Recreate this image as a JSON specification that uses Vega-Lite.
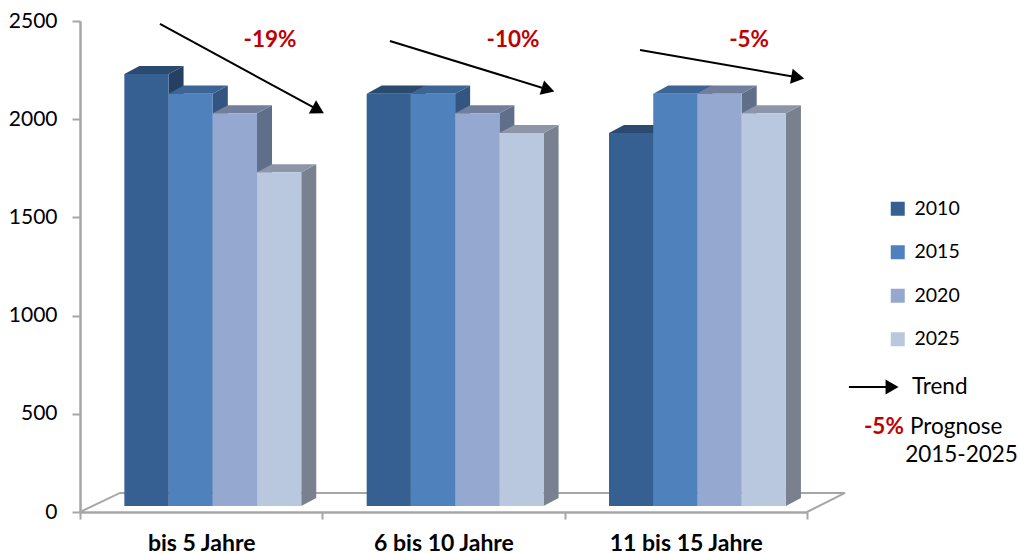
{"$schema":"https://vega.github.io/schema/vega-lite/v6.json","width":727,"height":491,"autosize":{"type":"none"},"padding":{"left":80,"top":21,"right":211,"bottom":41},"background":"white","config":{"view":{"stroke":null},"font":"Lato"},
"datasets":{"bars":[
{"group":"bis 5 Jahre","year":"2010","value":2200},{"group":"bis 5 Jahre","year":"2015","value":2100},{"group":"bis 5 Jahre","year":"2020","value":2000},{"group":"bis 5 Jahre","year":"2025","value":1700},
{"group":"6 bis 10 Jahre","year":"2010","value":2100},{"group":"6 bis 10 Jahre","year":"2015","value":2100},{"group":"6 bis 10 Jahre","year":"2020","value":2000},{"group":"6 bis 10 Jahre","year":"2025","value":1900},
{"group":"11 bis 15 Jahre","year":"2010","value":1900},{"group":"11 bis 15 Jahre","year":"2015","value":2100},{"group":"11 bis 15 Jahre","year":"2020","value":2100},{"group":"11 bis 15 Jahre","year":"2025","value":2000}],
"arrows":[{"name":"a","x1":0.330,"y1":2485,"x2":0.975,"y2":2052},{"name":"b","x1":1.279,"y1":2398,"x2":1.923,"y2":2154},{"name":"c","x1":2.311,"y1":2352,"x2":2.953,"y2":2215},{"name":"Trend","x1":3.173,"y1":636,"x2":3.342,"y2":636}],
"floor":[{"n":0,"x":0,"y":0},{"n":1,"x":0.165,"y":97},{"n":2,"x":3.157,"y":97},{"n":3,"x":3,"y":0}],
"redLabels":[{"t":"-19%","x":0.784,"y":2403},{"t":"-10%","x":1.787,"y":2403},{"t":"-5%","x":2.761,"y":2403}],
"notes":[{"t":"Trend","x":3.433,"y":636},{"t":"Prognose","x":3.425,"y":433},{"t":"2015-2025","x":3.405,"y":290}],
"noteRed":[{"t":"-5%","x":3.235,"y":433}]},
"layer":[
{"data":{"name":"floor"},"mark":{"type":"line","stroke":"#a6a6a6","strokeWidth":2},"encoding":{"x":{"field":"x","type":"quantitative","scale":{"domain":[0,3],"nice":false,"zero":false},"axis":{"values":[0,0.5,1,1.5,2,2.5,3],"title":null,"grid":false,"domainColor":"#a6a6a6","domainWidth":2.5,"tickColor":"#a6a6a6","tickWidth":2,"tickSize":7,"tickOpacity":{"condition":{"test":"datum.value%1==0","value":1},"value":0},"labelExpr":"datum.value==0.5?'bis 5 Jahre':datum.value==1.5?'6 bis 10 Jahre':datum.value==2.5?'11 bis 15 Jahre':''","labelFont":"Lato","labelFontSize":23,"labelFontWeight":"bold","labelColor":"#000000","labelPadding":13,"labelOverlap":false,"labelFlush":false,"labelBound":false,"labelLimit":400}},"y":{"field":"y","type":"quantitative","scale":{"domain":[0,2500],"nice":false},"axis":{"values":[0,500,1000,1500,2000,2500],"format":"d","title":null,"grid":false,"domainColor":"#a6a6a6","domainWidth":2.5,"tickColor":"#a6a6a6","tickWidth":2,"tickSize":8,"labelFont":"Lato","labelFontSize":21,"labelColor":"#000000","labelPadding":15}},"order":{"field":"n","type":"quantitative"}}},
{"data":{"name":"bars"},"transform":[{"calculate":"indexof(['bis 5 Jahre','6 bis 10 Jahre','11 bis 15 Jahre'],datum.group)+0.183+indexof(['2010','2015','2020','2025'],datum.year)*0.1825","as":"left"},{"calculate":"[0,1]","as":"t"},{"flatten":["t"]},{"calculate":"datum.left+0.1825+datum.t*0.0619","as":"sx"},{"calculate":"30+datum.t*41","as":"sy"},{"calculate":"datum.value+30+datum.t*41","as":"sy2"},{"calculate":"datum.year+' side'","as":"key"},{"calculate":"datum.group+datum.year","as":"id"}],"mark":{"type":"area","orient":"vertical"},"encoding":{"x":{"field":"sx","type":"quantitative"},"y":{"field":"sy","type":"quantitative"},"y2":{"field":"sy2"},"detail":{"field":"id"},"color":{"field":"key","type":"nominal","legend":{"values":["2010","2015","2020","2025"],"title":null,"orient":"none","legendX":808,"legendY":178,"symbolType":"square","symbolSize":196,"symbolStrokeWidth":0,"labelFont":"Lato","labelFontSize":19.5,"labelColor":"#000000","labelOffset":7,"rowPadding":22.5},"scale":{"domain":["2010","2015","2020","2025","2010 side","2015 side","2020 side","2025 side","2010 top","2015 top","2020 top","2025 top"],"range":["#376092","#4f81bd","#95a9d0","#b9c7df","#254061","#34557f","#5f6f8a","#79808f","#2a4a70","#3c6494","#717f9c","#8c96a8"]}}}},
{"data":{"name":"bars"},"transform":[{"calculate":"indexof(['bis 5 Jahre','6 bis 10 Jahre','11 bis 15 Jahre'],datum.group)+0.183+indexof(['2010','2015','2020','2025'],datum.year)*0.1825","as":"left"},{"calculate":"[0,1]","as":"t"},{"flatten":["t"]},{"calculate":"datum.left+datum.t*0.0619","as":"tx"},{"calculate":"datum.left+0.1825+datum.t*0.0619","as":"tx2"},{"calculate":"datum.value+30+datum.t*41","as":"ty"},{"calculate":"datum.year+' top'","as":"key"},{"calculate":"datum.group+datum.year","as":"id"}],"mark":{"type":"area","orient":"horizontal"},"encoding":{"y":{"field":"ty","type":"quantitative"},"x":{"field":"tx","type":"quantitative"},"x2":{"field":"tx2"},"detail":{"field":"id"},"color":{"field":"key","type":"nominal"}}},
{"data":{"name":"bars"},"transform":[{"calculate":"indexof(['bis 5 Jahre','6 bis 10 Jahre','11 bis 15 Jahre'],datum.group)+0.183+indexof(['2010','2015','2020','2025'],datum.year)*0.1825","as":"left"},{"calculate":"datum.left+0.1825","as":"right"},{"calculate":"datum.value+30","as":"top"},{"calculate":"30","as":"base"}],"mark":{"type":"rect"},"encoding":{"x":{"field":"left","type":"quantitative"},"x2":{"field":"right"},"y":{"field":"base","type":"quantitative"},"y2":{"field":"top"},"color":{"field":"year","type":"nominal"}}},
{"data":{"name":"arrows"},"mark":{"type":"rule","color":"#000000","strokeWidth":2},"encoding":{"x":{"field":"x1","type":"quantitative"},"x2":{"field":"x2"},"y":{"field":"y1","type":"quantitative"},"y2":{"field":"y2"}}},
{"data":{"name":"arrows"},"transform":[{"calculate":"atan2((datum.x2-datum.x1)*242.33,(datum.y2-datum.y1)*0.1964)*180/PI","as":"heading"}],"mark":{"type":"point","shape":"triangle","filled":true,"color":"#000000","size":225,"opacity":1},"encoding":{"x":{"field":"x2","type":"quantitative"},"y":{"field":"y2","type":"quantitative"},"angle":{"field":"heading","type":"quantitative","scale":{"domain":[0,360],"range":[0,360]}}}},
{"data":{"name":"redLabels"},"mark":{"type":"text","font":"Lato","fontSize":22.5,"fontWeight":"bold","color":"#c00000"},"encoding":{"x":{"field":"x","type":"quantitative"},"y":{"field":"y","type":"quantitative"},"text":{"field":"t"}}},
{"data":{"name":"notes"},"mark":{"type":"text","font":"Lato","fontSize":22.5,"align":"left","color":"#000000"},"encoding":{"x":{"field":"x","type":"quantitative"},"y":{"field":"y","type":"quantitative"},"text":{"field":"t"}}},
{"data":{"name":"noteRed"},"mark":{"type":"text","font":"Lato","fontSize":22.5,"fontWeight":"bold","align":"left","color":"#c00000"},"encoding":{"x":{"field":"x","type":"quantitative"},"y":{"field":"y","type":"quantitative"},"text":{"field":"t"}}}
]}
